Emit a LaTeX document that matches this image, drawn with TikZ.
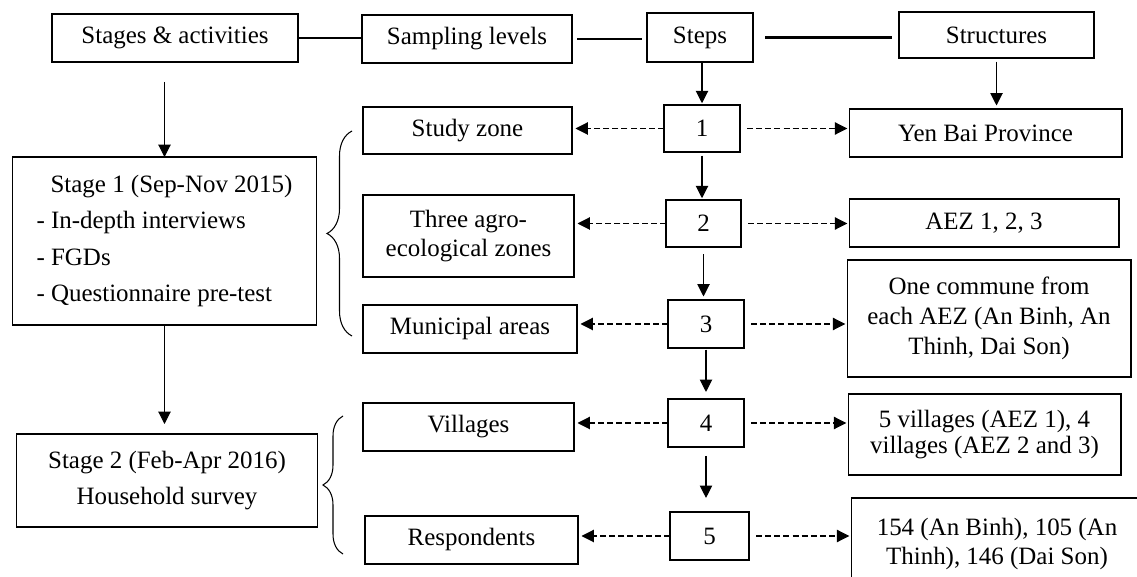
\documentclass[tikz,border=0pt]{standalone}
\usepackage{fontspec}
\setmainfont{Liberation Serif}
\usepackage{tikz}
\usetikzlibrary{arrows.meta,positioning,decorations.pathreplacing}

\tikzset{
  box/.style={draw, line width=0.6pt, align=center, inner sep=2pt},
  flowarrow/.style={line width=0.6pt, -{Triangle[length=7pt,width=7pt]}},
  linkarrow/.style={line width=0.6pt, dash pattern=on 3.4pt off 1.8pt, -{Triangle[length=7pt,width=7pt]}},
  headline/.style={line width=1.2pt},
  bracebar/.style={line width=0.6pt, decorate, decoration={brace}}
}

\begin{document}
\begin{tikzpicture}[x=0.02cm, y=-0.02cm,
  every node/.style={font=\fontsize{14.2pt}{17pt}\selectfont, outer sep=0pt}]
\useasboundingbox (0,0) rectangle (1137,577);

% Header row left to right
\node[box, minimum width=4.92cm, minimum height=0.96cm] (hStages) at (175,38) {Stages \& activities};
\node[box, minimum width=4.20cm, minimum height=0.96cm] (hLevels) at (467,39) {Sampling levels};
\node[box, minimum width=2.12cm, minimum height=0.98cm] (hSteps) at (700,37.5) {Steps};
\node[box, minimum width=3.90cm, minimum height=0.92cm] (hStruct) at (996.5,35) {Structures};

% Stages column
\node[box, minimum width=6.10cm, minimum height=3.36cm, align=left,
  font=\fontsize{14.2pt}{20.5pt}\selectfont] (st1) at (164.5,241)
  {\hspace{8pt}Stage 1 (Sep-Nov 2015)\\- In-depth interviews\\- FGDs\\- Questionnaire pre-test};
\node[box, minimum width=6.04cm, minimum height=1.86cm,
  font=\fontsize{14.2pt}{21pt}\selectfont] (st2) at (167,480.5)
  {Stage 2 (Feb-Apr 2016)\\Household survey};

% Sampling levels column
\node[box, minimum width=4.18cm, minimum height=0.94cm] (lvZone) at (467.5,130.5) {Study zone};
\node[box, minimum width=4.22cm, minimum height=1.64cm] (lvAgro) at (468.5,236) {Three agro-\\ecological zones};
\node[box, minimum width=4.28cm, minimum height=0.96cm] (lvMuni) at (470,329) {Municipal areas};
\node[box, minimum width=4.22cm, minimum height=0.96cm] (lvVill) at (468.5,427) {Villages};
\node[box, minimum width=4.26cm, minimum height=0.96cm] (lvResp) at (471.5,540) {Respondents};

% Steps column
\node[box, minimum width=1.52cm, minimum height=0.94cm] (s1) at (702,128.5) {1};
\node[box, minimum width=1.50cm, minimum height=0.94cm] (s2) at (703.5,223.5) {2};
\node[box, minimum width=1.52cm, minimum height=0.96cm] (s3) at (706,324) {3};
\node[box, minimum width=1.52cm, minimum height=0.96cm] (s4) at (706,423) {4};
\node[box, minimum width=1.58cm, minimum height=0.96cm] (s5) at (709.5,536) {5};

% Structures column
\node[box, minimum width=5.46cm, minimum height=0.96cm] (rZone) at (985.5,133) {Yen Bai Province};
\node[box, minimum width=5.40cm, minimum height=0.96cm] (rAgro) at (984,223) {AEZ 1, 2, 3};
\node[box, minimum width=5.68cm, minimum height=2.34cm] (rMuni) at (989,318.5)
  {One commune from\\each AEZ (An Binh, An\\Thinh, Dai Son)};
\node[box, minimum width=5.46cm, minimum height=1.62cm,
  font=\fontsize{14.2pt}{15pt}\selectfont] (rVill) at (984.5,434.5)
  {5 villages (AEZ 1), 4\\villages (AEZ 2 and 3)};
\node[box, minimum width=5.84cm, minimum height=1.84cm,
  font=\fontsize{14.2pt}{16pt}\selectfont] (rResp) at (997,544)
  {154 (An Binh), 105 (An\\Thinh), 146 (Dai Son)};

% Header links
\draw[headline] (hStages.east) -- (hStages.east -| hLevels.west);
\draw[headline, shorten <=3pt, shorten >=3pt] (hLevels.east) -- (hLevels.east -| hSteps.west);
\draw[headline, shorten <=7pt, shorten >=4pt] (hSteps.east) -- (hSteps.east -| hStruct.west);

% Down arrows
\draw[flowarrow, shorten <=0.4cm] (st1.north |- hStages.south) -- (st1.north);
\draw[flowarrow, shorten >=0.2cm] (st1.south) -- (st1.south |- st2.north);
\draw[flowarrow, shorten >=1pt] (s1.north |- hSteps.south) -- (s1.north);
\draw[flowarrow, shorten <=2pt, shorten >=2pt] (hStruct.south) -- (hStruct.south |- rZone.north);
\draw[flowarrow, shorten <=2pt, shorten >=1pt] (s1.south) -- (s1.south |- s2.north);
\draw[flowarrow, shorten <=4pt, shorten >=2pt] (s2.south) -- (s2.south |- s3.north);
\draw[flowarrow, shorten <=1pt, shorten >=4pt] (s3.south) -- (s3.south |- s4.north);
\draw[flowarrow, shorten <=5pt, shorten >=8pt] (s4.south) -- (s4.south |- s5.north);

% Dashed links to levels and structures
\foreach \s/\lv/\r in {s1/lvZone/rZone, s2/lvAgro/rAgro, s3/lvMuni/rMuni, s4/lvVill/rVill, s5/lvResp/rResp} {
  \draw[linkarrow, shorten >=2pt] (\s.west) -- (\s.west -| \lv.east);
  \draw[linkarrow, shorten <=4pt, shorten >=1pt] (\s.east) -- (\s.east -| \r.west);
}

% Braces
\draw[bracebar, decoration={amplitude=0.5cm}] (352,336) -- (352,131);
\draw[bracebar, decoration={amplitude=0.4cm}] (343,554) -- (343,416);
\end{tikzpicture}
\end{document}
